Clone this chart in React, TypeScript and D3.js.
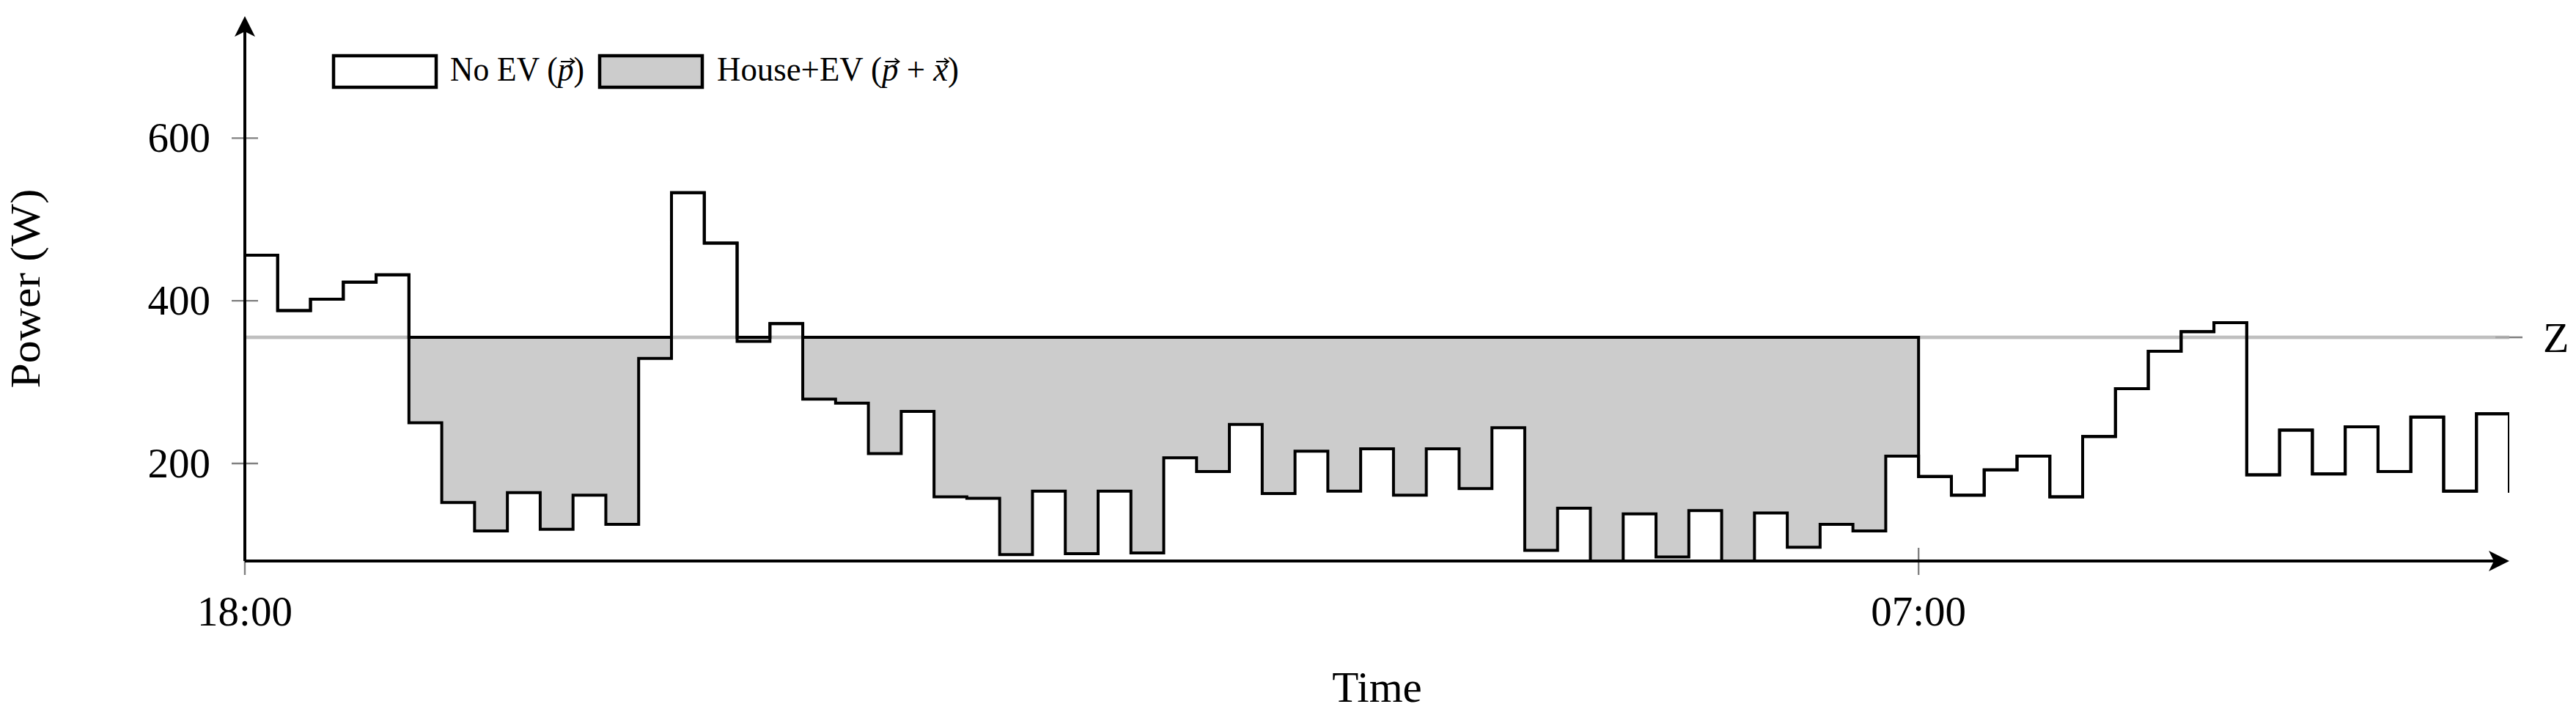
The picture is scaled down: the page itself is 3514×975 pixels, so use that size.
import React, { useEffect, useRef, useState } from "react";
import * as d3 from "d3";

// ---- data ----
const Z = 355;
// household load without EV, one value per 15-min slot (last value is the closing point)
const houseLoad = [
  456, 388, 402, 423, 432, 250, 152, 117, 164, 119,
  161, 125, 329, 533, 471, 350, 372, 279, 274, 212,
  264, 159, 157, 88, 166, 89, 166, 90, 207, 190,
  248, 163, 215, 166, 218, 161, 218, 169, 244, 93,
  145, 75, 138, 85, 142, 75, 139, 97, 125, 117,
  209, 184, 161, 192, 209, 159, 233, 292, 338, 362,
  373, 186, 241, 187, 245, 190, 257, 166, 261, 164,
];
// household + EV charging (valley filled up to Z during the charging window)
const houseEV = [
  456, 388, 402, 423, 432, 355, 355, 355, 355, 355,
  355, 355, 355, 533, 471, 355, 372, 355, 355, 355,
  355, 355, 355, 355, 355, 355, 355, 355, 355, 355,
  355, 355, 355, 355, 355, 355, 355, 355, 355, 355,
  355, 355, 355, 355, 355, 355, 355, 355, 355, 355,
  355, 184, 161, 192, 209, 159, 233, 292, 338, 362,
  373, 186, 241, 187, 245, 190, 257, 166, 261, 164,
];
const xTickIndex = [0, 51];
const xTickLabels = ["18:00", "07:00"];
const yTickValues = [200, 400, 600];
const legendNames = ["No EV", "House+EV"];
const legendVectors = [["p"], ["p", "x"]];
const legendFills = ["#ffffff", "#cccccc"];

const W = 3514;
const H = 975;
const FONT = "'Liberation Serif', 'DejaVu Serif', serif";

export default function App() {
  const x = d3.scaleLinear().domain([0, houseLoad.length - 1]).range([334, 3423]);
  const y = d3.scaleLinear().domain([80, 750]).range([765, 22]);

  const line = d3
    .line<number>()
    .x((_, i) => x(i))
    .y((d) => y(d))
    .curve(d3.curveStepAfter);

  const area = d3
    .area<number>()
    .x((_, i) => x(i))
    .y0((_, i) => y(houseLoad[i]))
    .y1((d) => y(d))
    .curve(d3.curveStepAfter);

  const x0 = x.range()[0];
  const x1 = x.range()[1];
  const yBot = y.range()[0];
  const yTop = y.range()[1];

  const textRefs = useRef<(SVGTextElement | null)[]>([]);
  const [arrows, setArrows] = useState<{ a: number; b: number }[]>([]);

  useEffect(() => {
    const out: { a: number; b: number }[] = [];
    legendNames.forEach((name, k) => {
      const el = textRefs.current[k];
      if (!el) return;
      let idx = name.length + 2; // "name (" then first vector
      legendVectors[k].forEach((v) => {
        try {
          const b = el.getExtentOfChar(idx);
          out.push({ a: b.x + b.width * 0.2, b: b.x + b.width * 1.05 });
        } catch (e) {}
        idx += v.length + 3; // " + "
      });
    });
    setArrows(out);
  }, []);

  const legendBoxX = [455, 818];
  const legendTextX = [614, 978];
  const legendTextLen = [183, 330];

  return (
    <svg
      width={W}
      height={H}
      style={{ position: "absolute", left: 0, top: 0, display: "block", background: "#fff" }}
      fontFamily={FONT}
    >
      <defs>
        <clipPath id="plotClip">
          <rect x={x0} y={yTop} width={x1 - x0} height={yBot - yTop} />
        </clipPath>
      </defs>
      <rect x={0} y={0} width={W} height={H} fill="#fff" />

      {/* y ticks */}
      {yTickValues.map((v) => (
        <g key={v}>
          <line x1={x0 - 18} x2={x0 + 18} y1={y(v)} y2={y(v)} stroke="#808080" strokeWidth={2.4} />
          <text x={287} y={y(v) + 19} textAnchor="end" fontSize={57} fill="#000">
            {v}
          </text>
        </g>
      ))}

      {/* x ticks */}
      {xTickIndex.map((t, k) => (
        <g key={t}>
          <line x1={x(t)} x2={x(t)} y1={yBot - 18} y2={yBot + 19} stroke="#808080" strokeWidth={2.4} />
          <text x={x(t)} y={853} textAnchor="middle" fontSize={57} fill="#000">
            {xTickLabels[k]}
          </text>
        </g>
      ))}

      {/* Z level */}
      <line x1={x0} x2={x1} y1={y(Z)} y2={y(Z)} stroke="#bfbfbf" strokeWidth={4.5} />
      <line x1={x1 - 19} x2={x1 + 18} y1={y(Z)} y2={y(Z)} stroke="#808080" strokeWidth={2.4} />
      <text x={3469} y={y(Z) + 20} fontSize={58} fill="#000">
        Z
      </text>

      <g clipPath="url(#plotClip)">
        <path d={area(houseEV) || ""} fill="#cccccc" stroke="none" />
        <line x1={x0} x2={x1} y1={y(Z)} y2={y(Z)} stroke="#bfbfbf" strokeWidth={4.5} opacity={0.6} />
        <path d={line(houseEV) || ""} fill="none" stroke="#000" strokeWidth={4} strokeLinejoin="miter" />
        <path d={line(houseLoad) || ""} fill="none" stroke="#000" strokeWidth={4} strokeLinejoin="miter" />
      </g>

      {/* axes */}
      <line x1={x0} x2={x1 - 12} y1={yBot} y2={yBot} stroke="#000" strokeWidth={4} />
      <path
        d={`M${x1},${yBot} L${x1 - 28},${yBot - 14} L${x1 - 21},${yBot} L${x1 - 28},${yBot + 14} Z`}
        fill="#000"
      />
      <line x1={x0} x2={x0} y1={yBot} y2={yTop + 12} stroke="#000" strokeWidth={4} />
      <path
        d={`M${x0},${yTop} L${x0 - 14},${yTop + 28} L${x0},${yTop + 21} L${x0 + 14},${yTop + 28} Z`}
        fill="#000"
      />

      {/* axis labels */}
      <text x={(x0 + x1) / 2} y={957} textAnchor="middle" fontSize={59} fill="#000">
        Time
      </text>
      <text
        transform={`translate(54, ${(yTop + yBot) / 2}) rotate(-90)`}
        x={0}
        y={0}
        textAnchor="middle"
        fontSize={56}
        textLength={272}
        lengthAdjust="spacingAndGlyphs"
        fill="#000"
      >
        Power (W)
      </text>

      {/* legend */}
      {legendNames.map((name, k) => (
        <g key={name}>
          <rect
            x={legendBoxX[k]}
            y={76}
            width={140}
            height={43}
            fill={legendFills[k]}
            stroke="#000"
            strokeWidth={4.5}
          />
          <text
            ref={(el) => {
              textRefs.current[k] = el;
            }}
            x={legendTextX[k]}
            y={110}
            fontSize={46}
            fill="#000"
            textLength={legendTextLen[k]}
            lengthAdjust="spacingAndGlyphs"
          >
            {name + " ("}
            {legendVectors[k].map((v, j) => (
              <React.Fragment key={v}>
                {j > 0 ? <tspan>{" + "}</tspan> : null}
                <tspan fontStyle="italic">{v}</tspan>
              </React.Fragment>
            ))}
            <tspan>)</tspan>
          </text>
        </g>
      ))}
      {arrows.map((ar, i) => (
        <path
          key={i}
          d={`M${ar.a},84 L${ar.b},84 M${ar.b - 6},79.5 L${ar.b},84 L${ar.b - 6},88.5`}
          fill="none"
          stroke="#000"
          strokeWidth={1.8}
        />
      ))}
    </svg>
  );
}
